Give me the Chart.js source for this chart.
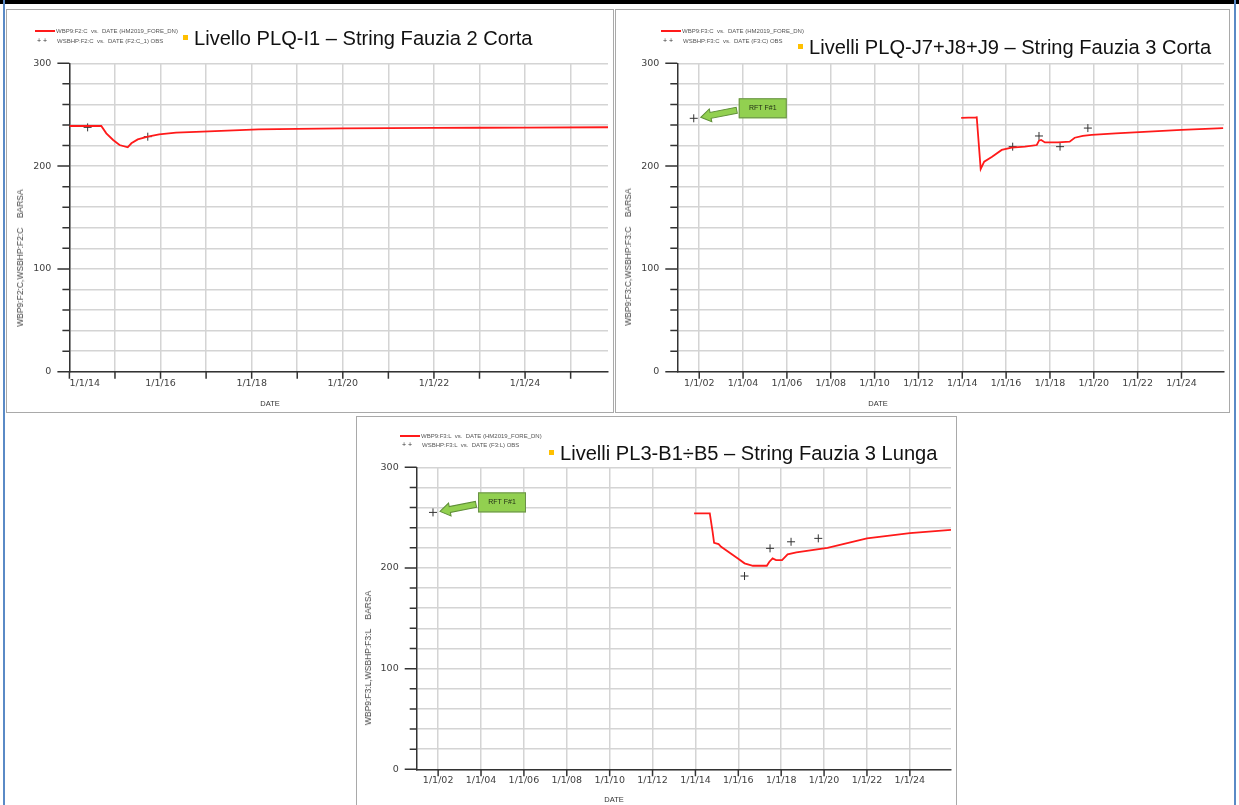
<!DOCTYPE html>
<html>
<head>
<meta charset="utf-8">
<script src="https://cdn.jsdelivr.net/npm/chart.js@4.4.0/dist/chart.umd.min.js"></script>
<style>
  body { margin: 0; width: 1239px; height: 805px; overflow: hidden; background: #fff; position: relative; font-family: "Liberation Sans", Arial, sans-serif; }
  .bar { position: absolute; left: 0; top: 0; width: 1239px; height: 4px; background: #000; }
  .frame { position: absolute; top: 0; width: 2px; height: 805px; background: #5a8ac6; }
  .panel { position: absolute; border: 1px solid #a9a9a9; box-sizing: border-box; background: #fff; }
  .panel canvas { position: absolute; left: 0; top: 0; }
  .leg { position: absolute; font-size: 6px; color: #555; white-space: pre; line-height: 8px; }
  .leg .ln { display: inline-block; width: 20px; height: 2px; background: #ff1a1a; vertical-align: middle; margin-right: 1px; }
  .leg .pl { display: inline-block; width: 20px; font-size: 7px; color: #333; }
  .title { position: absolute; font-size: 20.1px; color: #111; white-space: nowrap; line-height: 20px; }
  .title .sq { display: inline-block; width: 5px; height: 5px; background: #ffc000; vertical-align: middle; margin-right: 6px; position: relative; top: -2px; }
  .ytitle { position: absolute; font-size: 8.5px; color: #444; white-space: pre; transform: translate(-50%, -50%) rotate(-90deg); }
  .xtitle { position: absolute; font-size: 7.5px; color: #333; transform: translate(-50%, -50%); }
</style>
</head>
<body>
<div class="bar"></div>
<div class="frame" style="left:3px"></div>
<div class="frame" style="left:1234px"></div>

<div class="panel" style="left:6px;top:9px;width:608px;height:404px">
  <canvas id="c1" width="606" height="402"></canvas>
  <div class="leg" style="left:28px;top:17px"><span class="ln"></span>WBP9:F2:C  vs.  DATE (HM2019_FORE_DN)</div>
  <div class="leg" style="left:30px;top:27px"><span class="pl">+ +</span>WSBHP:F2:C  vs.  DATE (F2:C_1) OBS</div>
  <div class="title" style="left:176px;top:18px"><span class="sq"></span>Livello PLQ-I1 – String Fauzia 2 Corta</div>
  <div class="ytitle" style="left:13px;top:248px">WBP9:F2:C,WSBHP:F2:C    BARSA</div>
  <div class="xtitle" style="left:263px;top:393px">DATE</div>
</div>

<div class="panel" style="left:615px;top:9px;width:615px;height:404px">
  <canvas id="c2" width="613" height="402"></canvas>
  <div class="leg" style="left:45px;top:17px"><span class="ln"></span>WBP9:F3:C  vs.  DATE (HM2019_FORE_DN)</div>
  <div class="leg" style="left:47px;top:27px"><span class="pl">+ +</span>WSBHP:F3:C  vs.  DATE (F3:C) OBS</div>
  <div class="title" style="left:182px;top:27px"><span class="sq"></span>Livelli PLQ-J7+J8+J9 – String Fauzia 3 Corta</div>
  <div class="ytitle" style="left:12px;top:247px">WBP9:F3:C,WSBHP:F3:C    BARSA</div>
  <div class="xtitle" style="left:262px;top:393px">DATE</div>
</div>

<div class="panel" style="left:356px;top:416px;width:601px;height:400px">
  <canvas id="c3" width="599" height="398"></canvas>
  <div class="leg" style="left:43px;top:15px"><span class="ln"></span>WBP9:F3:L  vs.  DATE (HM2019_FORE_DN)</div>
  <div class="leg" style="left:45px;top:24px"><span class="pl">+ +</span>WSBHP:F3:L  vs.  DATE (F3:L) OBS</div>
  <div class="title" style="left:192px;top:26px"><span class="sq"></span>Livelli PL3-B1÷B5 – String Fauzia 3 Lunga</div>
  <div class="ytitle" style="left:11px;top:241px">WBP9:F3:L,WSBHP:F3:L    BARSA</div>
  <div class="xtitle" style="left:257px;top:382px">DATE</div>
</div>

<script>
// axis ticks
const yTicks = [0, 20, 40, 60, 80, 100, 120, 140, 160, 180, 200, 220, 240, 260, 280, 300];
const p1Years = [2014, 2015, 2016, 2017, 2018, 2019, 2020, 2021, 2022, 2023, 2024, 2025];
const p23Years = [2002, 2004, 2006, 2008, 2010, 2012, 2014, 2016, 2018, 2020, 2022, 2024];

// F2:C - simulated (decimal year, barsa)
const f2cSimDates = [2014.0, 2014.70, 2014.81, 2014.96, 2015.10, 2015.28, 2015.36, 2015.50, 2015.72, 2015.97,
  2016.34, 2016.92, 2018.15, 2019.0, 2020.0, 2021.0, 2022.0, 2023.0, 2024.0, 2025.82];
const f2cSimBars = [239, 239, 231.9, 225.4, 220.5, 218.3, 222.2, 226, 228.6, 230.9,
  232.5, 233.5, 235.8, 236.3, 236.7, 236.9, 237.1, 237.3, 237.5, 237.8];
// F2:C - observed
const f2cObsDates = [2014.40, 2015.72];
const f2cObsBars = [237.7, 228.6];

// F3:C - simulated
const f3cSimDates = [2013.95, 2014.62, 2014.66, 2014.84, 2015.0, 2015.36, 2015.8, 2016.25, 2016.86, 2017.4,
  2017.5, 2017.6, 2017.77, 2018.37, 2018.9, 2019.13, 2019.5, 2019.9, 2021.0, 2022.5, 2024.0, 2025.9];
const f3cSimBars = [247, 247.3, 247.5, 197.2, 204.3, 209.2, 215.7, 218, 218.9, 220.5,
  224.7, 225.4, 223, 223, 223.7, 227.6, 229.3, 230.3, 231.9, 233.5, 235.3, 237];
// F3:C - observed (first one is the RFT)
const f3cObsDates = [2001.75, 2016.3, 2017.5, 2018.46, 2019.73];
const f3cObsBars = [246.5, 218.9, 229.3, 218.9, 237];

// F3:L - simulated
const f3lSimDates = [2013.94, 2014.67, 2014.80, 2014.87, 2015.08, 2015.2, 2015.98, 2016.29, 2016.68, 2017.33,
  2017.45, 2017.6, 2017.76, 2018.04, 2018.3, 2018.71, 2020.16, 2022.0, 2024.0, 2025.92];
const f3lSimBars = [254.2, 254.2, 236, 225, 223.7, 221, 209.5, 204.6, 202.2, 202.2,
  206.2, 209.5, 207.8, 207.8, 213.5, 215.5, 220, 229.4, 234.6, 237.8];
// F3:L - observed
const f3lObsDates = [2001.76, 2016.29, 2017.48, 2018.46, 2019.73];
const f3lObsBars = [255.2, 192, 219.5, 226, 229.4];

const toPoints = (xs, ys) => xs.map((x, i) => ({ x: x, y: ys[i] }));
const yearLabel = (v) => '1/1/' + String(v % 100).padStart(2, '0');

// short tick marks drawn by hand: long at every 100, short at minor ticks
const tickMarks = {
  id: 'tickMarks',
  afterDraw(chart) {
    const { ctx, chartArea, scales: { x, y } } = chart;
    ctx.save();
    ctx.strokeStyle = '#333';
    ctx.lineWidth = 1.5;
    ctx.beginPath();
    y.ticks.forEach((t) => {
      const py = y.getPixelForValue(t.value);
      const len = t.value % 100 === 0 ? 12 : 7;
      ctx.moveTo(chartArea.left - len, py);
      ctx.lineTo(chartArea.left, py);
    });
    x.ticks.forEach((t) => {
      const px = x.getPixelForValue(t.value);
      ctx.moveTo(px, chartArea.bottom);
      ctx.lineTo(px, chartArea.bottom + 7);
    });
    ctx.stroke();
    ctx.restore();
  },
};

// green "RFT F#1" callout pointing at the first observed point
const rftNote = {
  id: 'rftNote',
  afterDatasetsDraw(chart, args, opts) {
    if (!opts.label) return;
    const pt = chart.getDatasetMeta(1).data[0];
    if (!pt) return;
    const { ctx } = chart;
    const tip = { x: pt.x + 7, y: pt.y - 1 };
    const tail = { x: pt.x + 43, y: pt.y - 8 };
    const ang = Math.atan2(tip.y - tail.y, tip.x - tail.x);
    const len = Math.hypot(tip.x - tail.x, tip.y - tail.y);
    ctx.save();
    ctx.translate(tail.x, tail.y);
    ctx.rotate(ang);
    ctx.beginPath();
    ctx.moveTo(0, -3);
    ctx.lineTo(len - 10, -3);
    ctx.lineTo(len - 10, -6.5);
    ctx.lineTo(len, 0);
    ctx.lineTo(len - 10, 6.5);
    ctx.lineTo(len - 10, 3);
    ctx.lineTo(0, 3);
    ctx.closePath();
    ctx.fillStyle = '#92d050';
    ctx.fill();
    ctx.strokeStyle = '#5f8f38';
    ctx.lineWidth = 1;
    ctx.stroke();
    ctx.restore();

    ctx.save();
    const bx = pt.x + 45, by = pt.y - 20, bw = 48, bh = 20;
    ctx.fillStyle = '#92d050';
    ctx.fillRect(bx, by, bw, bh);
    ctx.strokeStyle = '#6a8f4a';
    ctx.lineWidth = 1;
    ctx.strokeRect(bx + 0.5, by + 0.5, bw - 1, bh - 1);
    ctx.fillStyle = '#1f2a14';
    ctx.font = '7px "Liberation Sans", Arial, sans-serif';
    ctx.textAlign = 'center';
    ctx.textBaseline = 'middle';
    ctx.fillText(opts.label, bx + bw / 2, by + bh / 2);
    ctx.restore();
  },
};

function makeChart(id, cfg) {
  const tickFont = { family: '"DejaVu Sans", sans-serif', size: 9.5 };
  const pad = cfg.padding;
  return new Chart(document.getElementById(id), {
    data: {
      datasets: [
        {
          type: 'line',
          data: toPoints(cfg.simDates, cfg.simBars),
          borderColor: '#ff1a1a',
          borderWidth: 1.8,
          pointRadius: 0,
          tension: 0,
        },
        {
          type: 'scatter',
          data: toPoints(cfg.obsDates, cfg.obsBars),
          pointStyle: 'cross',
          pointRadius: 4,
          borderColor: '#333',
          borderWidth: 1,
          showLine: false,
        },
      ],
    },
    options: {
      responsive: false,
      animation: false,
      devicePixelRatio: 1,
      layout: { padding: { left: 0, top: pad.top, right: pad.right, bottom: 0 } },
      scales: {
        x: {
          type: 'linear',
          min: cfg.xMin,
          max: cfg.xMax,
          afterBuildTicks: (scale) => {
            scale.ticks = cfg.years.map((v) => ({ value: v }));
          },
          afterFit: (scale) => {
            scale.height = pad.bottom;
            scale.paddingLeft = scale.paddingRight = 0;
            scale.paddingTop = scale.paddingBottom = 0;
          },
          grid: { color: '#d4d4d4', lineWidth: 1.5, drawTicks: false },
          border: { color: '#333', width: 1.5 },
          ticks: {
            autoSkip: false,
            maxRotation: 0,
            padding: 6,
            align: cfg.tickAlign,
            color: '#404040',
            font: tickFont,
            callback: (v) => (cfg.labelEvery === 2 && v % 2 !== 0 ? '' : yearLabel(v)),
          },
        },
        y: {
          type: 'linear',
          min: 0,
          max: 300,
          afterBuildTicks: (scale) => {
            scale.ticks = yTicks.map((v) => ({ value: v }));
          },
          afterFit: (scale) => {
            scale.width = pad.left;
            scale.paddingLeft = scale.paddingRight = 0;
            scale.paddingTop = scale.paddingBottom = 0;
          },
          grid: { color: '#d4d4d4', lineWidth: 1.5, drawTicks: false },
          border: { color: '#333', width: 1.5 },
          ticks: {
            padding: 18,
            color: '#404040',
            font: tickFont,
            callback: (v) => (v % 100 === 0 ? String(v) : ''),
          },
        },
      },
      plugins: {
        legend: { display: false },
        tooltip: { enabled: false },
        rftNote: { label: cfg.note },
      },
    },
    plugins: [tickMarks, rftNote],
  });
}

makeChart('c1', {
  simDates: f2cSimDates, simBars: f2cSimBars,
  obsDates: f2cObsDates, obsBars: f2cObsBars,
  xMin: 2014, xMax: 2025.82, years: p1Years, labelEvery: 2, tickAlign: 'inner',
  padding: { left: 62.4, top: 53.3, right: 1, bottom: 40.3 },
  note: null,
});

makeChart('c2', {
  simDates: f3cSimDates, simBars: f3cSimBars,
  obsDates: f3cObsDates, obsBars: f3cObsBars,
  xMin: 2001, xMax: 2025.94, years: p23Years, labelEvery: 1, tickAlign: 'center',
  padding: { left: 61.3, top: 53.3, right: 3, bottom: 40.3 },
  note: 'RFT F#1',
});

makeChart('c3', {
  simDates: f3lSimDates, simBars: f3lSimBars,
  obsDates: f3lObsDates, obsBars: f3lObsBars,
  xMin: 2001, xMax: 2025.92, years: p23Years, labelEvery: 1, tickAlign: 'center',
  padding: { left: 59.7, top: 50.3, right: 2, bottom: 45.7 },
  note: 'RFT F#1',
});
</script>
</body>
</html>
